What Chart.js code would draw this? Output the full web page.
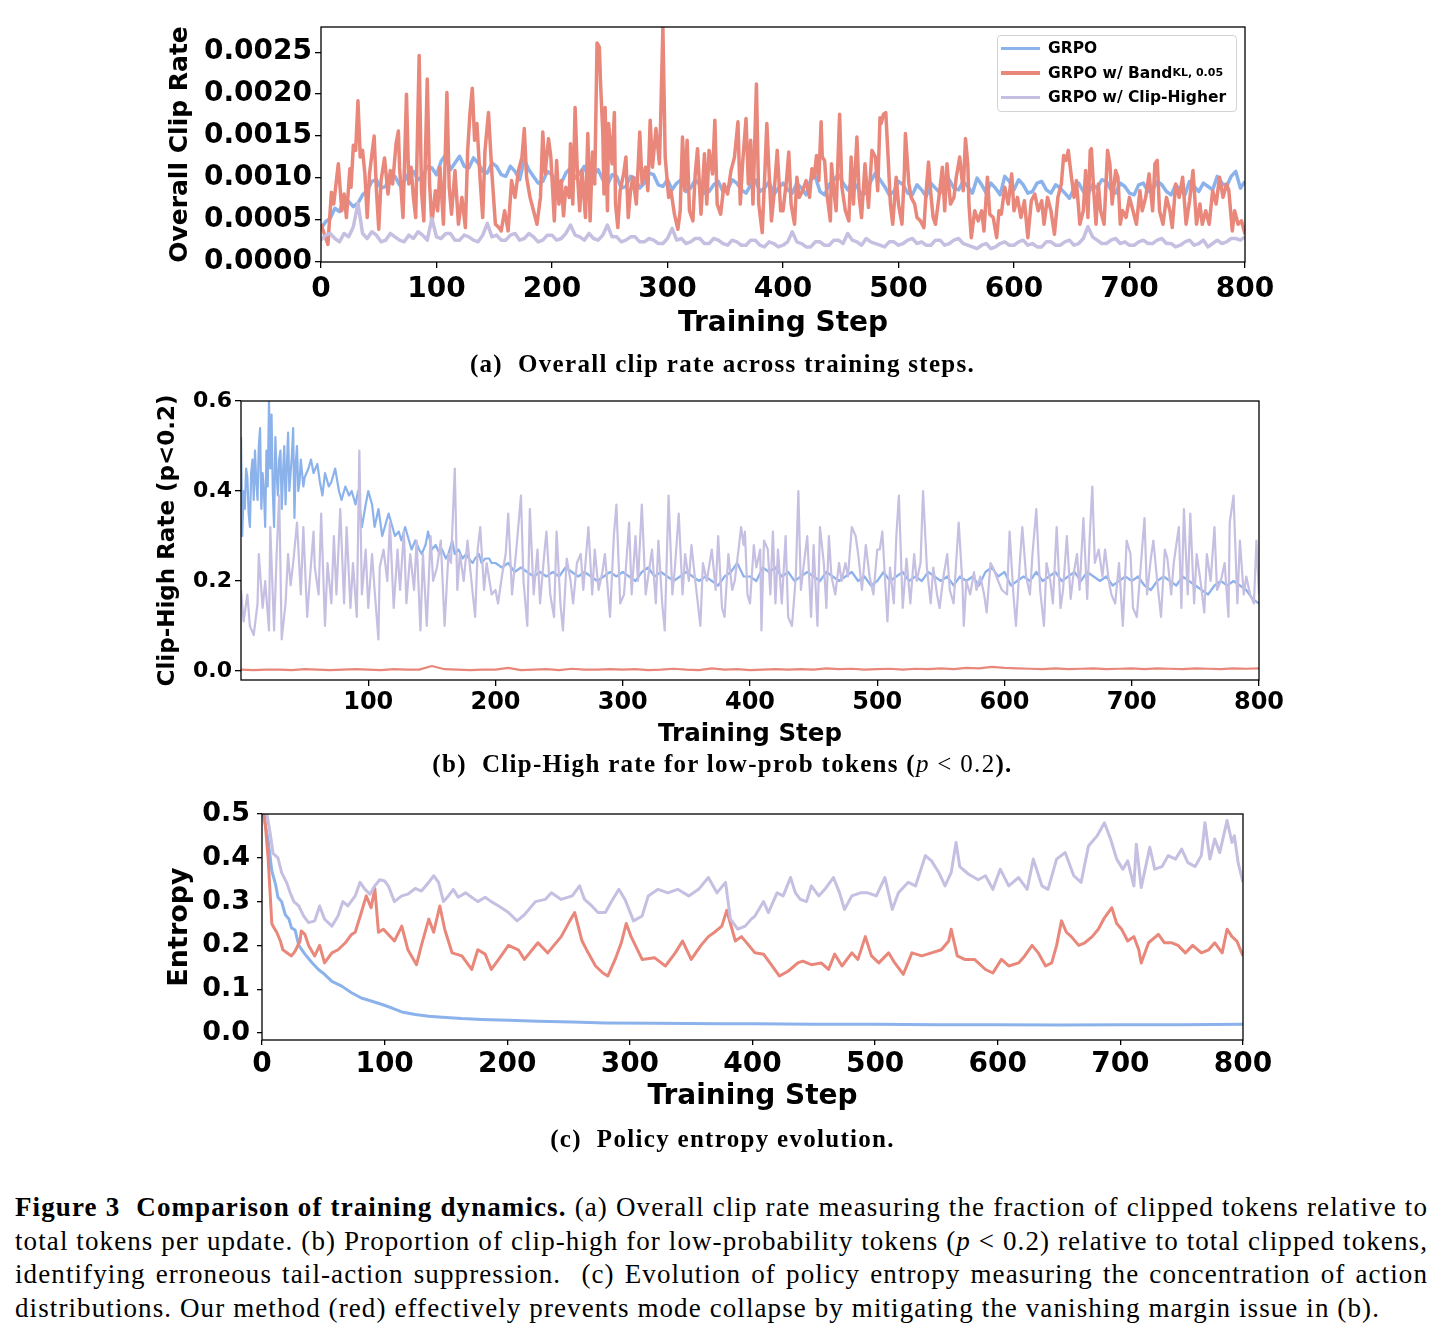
<!DOCTYPE html>
<html>
<head>
<meta charset="utf-8">
<title>Figure 3 - training dynamics</title>
<script src="https://cdn.jsdelivr.net/npm/chart.js@4.4.1/dist/chart.umd.min.js"></script>
<style>
  body { margin: 0; background: #fff; width: 1445px; height: 1338px; position: relative; overflow: hidden; }
  canvas { position: absolute; }
  .sub { position: absolute; left: 0; width: 1445px; text-align: center; font-family: "Liberation Serif", serif;
         font-weight: bold; font-size: 25px; line-height: 30px; letter-spacing: 1.3px; }
  .sub .m { font-weight: normal; }
  .legend { position: absolute; left: 997px; top: 35px; width: 240px; height: 77px; box-sizing: border-box;
            border: 1px solid #d3d3d3; border-radius: 4px; background: rgba(255,255,255,0.8);
            font-family: "DejaVu Sans", sans-serif; font-weight: bold; font-size: 15.5px; }
  .legend .row { height: 24.5px; display: flex; align-items: center; white-space: nowrap; }
  .legend .swatch { display: inline-block; width: 39px; height: 3.5px; margin: 0 8px 0 3px; }
  .legend sub { font-size: 11px; vertical-align: -3px; line-height: 0; }
  .caption { position: absolute; left: 15px; top: 1191px; width: 1413px; font-family: "Liberation Serif", serif;
             font-size: 27px; letter-spacing: 1.1px; color: #000; }
  .caption div { height: 33.5px; line-height: 33.5px; white-space: nowrap; }
  .caption .just { text-align: justify; text-align-last: justify; }
</style>
</head>
<body>
<canvas id="clipChart" width="1150" height="340" style="left:150px; top:10px;"></canvas>
<canvas id="highChart" width="1170" height="375" style="left:140px; top:385px;"></canvas>
<canvas id="entropyChart" width="1150" height="325" style="left:150px; top:800px;"></canvas>

<div class="legend">
  <div class="row"><span class="swatch" style="background:#8cb2ec"></span>GRPO</div>
  <div class="row"><span class="swatch" style="background:#e8877a"></span>GRPO w/ Band<sub>KL, 0.05</sub></div>
  <div class="row"><span class="swatch" style="background:#c6bfe2"></span>GRPO w/ Clip-Higher</div>
</div>

<div class="sub" style="top:349px">(a)&nbsp; Overall clip rate across training steps.</div>
<div class="sub" style="top:749px">(b)&nbsp; Clip-High rate for low-prob tokens (<span class="m"><i>p</i> &lt; 0.2</span>).</div>
<div class="sub" style="top:1124px">(c)&nbsp; Policy entropy evolution.</div>

<div class="caption">
  <div class="just"><b>Figure 3&nbsp; Comparison of training dynamics.</b> (a) Overall clip rate measuring the fraction of clipped tokens relative to</div>
  <div class="just">total tokens per update. (b) Proportion of clip-high for low-probability tokens (<i>p</i> &lt; 0.2) relative to total clipped tokens,</div>
  <div class="just">identifying erroneous tail-action suppression.&nbsp; (c) Evolution of policy entropy measuring the concentration of action</div>
  <div>distributions. Our method (red) effectively prevents mode collapse by mitigating the vanishing margin issue in (b).</div>
</div>

<script>
// colours of the three runs
const BLUE = "#8cb2ec", RED = "#e8877a", PURPLE = "#c6bfe2";

// ---------- (a) overall clip rate, values in units of 1e-4 ----------
const clipGrpoSteps = range(0, 800, 4);
const clipGrpo = [
  4.0, 4.8, 5.2, 6.4, 6.0, 7.6, 7.2, 6.6, 7.0, 8.0, 8.5, 9.6, 9.8, 8.8, 9.0, 10.4, 10.2, 9.2, 9.6, 10.6,
  10.8, 9.8, 10.2, 11.4, 11.2, 10.4, 12.0, 12.8, 11.0, 11.8, 12.6, 11.4, 11.2, 12.4, 11.8, 10.8, 10.6, 11.8, 11.4, 10.4,
  10.2, 11.4, 10.8, 9.8, 12.2, 11.0, 10.2, 9.4, 9.6, 10.8, 10.4, 9.2, 9.4, 10.6, 11.2, 10.0, 10.6, 11.4, 9.8, 10.4,
  11.0, 9.8, 9.2, 10.4, 10.2, 8.8, 9.0, 10.2, 10.0, 8.8, 9.4, 10.6, 10.4, 9.2, 9.0, 9.8, 8.6, 9.4, 9.8, 8.4,
  8.8, 9.8, 9.2, 8.2, 8.4, 9.2, 9.6, 8.4, 8.6, 9.8, 9.4, 8.6, 8.2, 9.2, 9.8, 8.4, 8.8, 9.6, 8.0, 8.8,
  9.4, 8.6, 8.2, 9.4, 8.8, 8.0, 9.8, 10.2, 8.4, 8.0, 9.2, 9.8, 10.4, 9.4, 8.6, 9.6, 9.0, 8.0, 8.2, 9.6,
  10.6, 9.8, 9.0, 8.0, 8.4, 9.6, 9.2, 8.2, 8.0, 9.2, 8.6, 7.8, 9.4, 8.8, 8.2, 9.2, 9.8, 8.8, 8.6, 9.6,
  9.0, 8.2, 10.0, 9.2, 8.2, 9.4, 8.8, 8.0, 10.2, 9.6, 8.6, 9.8, 9.2, 8.2, 8.4, 9.4, 9.6, 8.6, 8.2, 9.2,
  8.8, 8.2, 7.6, 8.8, 9.4, 8.4, 8.0, 9.2, 8.8, 9.8, 9.6, 8.6, 8.2, 9.4, 9.0, 8.2, 8.0, 9.2, 9.4, 8.4,
  8.6, 9.6, 9.2, 8.4, 8.0, 9.2, 8.6, 8.0, 9.6, 9.0, 8.4, 9.4, 9.0, 8.6, 10.2, 9.4, 9.0, 10.2, 10.8, 8.8,
  9.6
];
const clipHigherSteps = range(0, 800, 4);
const clipHigher = [
  2.6, 3.2, 3.4, 2.8, 2.4, 3.4, 3.0, 4.2, 7.0, 3.4, 2.8, 3.6, 3.2, 2.4, 2.6, 3.4, 3.0, 2.6, 2.4, 3.2,
  2.8, 3.6, 3.2, 2.6, 5.2, 3.0, 2.8, 3.4, 3.4, 2.6, 2.6, 3.2, 3.0, 2.6, 2.4, 3.2, 4.6, 3.0, 3.2, 2.6,
  2.6, 3.2, 3.4, 2.6, 2.8, 3.4, 3.0, 2.4, 2.6, 3.2, 3.2, 2.6, 2.8, 3.4, 4.4, 3.2, 3.0, 2.6, 3.4, 2.8,
  2.6, 3.2, 4.4, 3.0, 3.0, 2.4, 2.6, 3.0, 3.0, 2.4, 2.4, 2.8, 2.6, 2.2, 2.2, 2.8, 4.0, 2.6, 2.8, 2.2,
  2.4, 2.8, 2.8, 2.2, 2.2, 2.8, 2.6, 2.2, 2.0, 2.6, 2.4, 2.0, 2.0, 2.6, 2.6, 2.0, 1.8, 2.4, 2.2, 1.8,
  2.0, 2.4, 3.6, 2.4, 2.2, 1.8, 1.8, 2.4, 2.4, 2.0, 2.0, 2.6, 2.6, 2.2, 3.4, 2.6, 2.4, 2.0, 2.8, 2.4,
  2.2, 2.0, 1.8, 2.4, 2.4, 2.0, 2.2, 2.6, 2.8, 2.2, 2.4, 2.0, 2.0, 2.6, 2.6, 2.0, 2.2, 2.6, 2.8, 2.2,
  2.0, 1.8, 1.6, 2.0, 2.2, 1.6, 1.8, 2.2, 2.4, 2.0, 2.0, 2.4, 2.6, 2.0, 2.2, 1.8, 1.8, 2.4, 2.4, 2.0,
  2.0, 2.4, 2.6, 2.0, 2.2, 2.8, 4.2, 3.0, 2.6, 2.2, 2.2, 2.6, 2.8, 2.2, 2.4, 2.0, 2.0, 2.4, 2.6, 2.2,
  2.2, 2.6, 2.8, 2.2, 2.2, 1.8, 2.0, 2.4, 2.6, 2.0, 2.2, 2.6, 1.8, 2.2, 2.6, 2.2, 2.4, 2.8, 2.8, 2.6,
  3.0
];
const clipBandSteps = [
  0, 6, 9, 11, 15, 18, 20, 22, 25, 26,
  28, 30, 32, 34, 36, 38, 40, 42, 46, 48,
  50, 52, 55, 58, 60, 62, 65, 67, 68, 71,
  74, 76, 78, 80, 82, 85, 87, 89, 92, 94,
  96, 99, 101, 103, 106, 109, 111, 113, 116, 119,
  122, 125, 127, 129, 131, 133, 135, 138, 140, 142,
  145, 148, 151, 154, 156, 159, 162, 165, 168, 171,
  174, 176, 178, 181, 184, 187, 190, 192, 194, 197,
  199, 202, 204, 206, 208, 210, 212, 215, 216, 218,
  220, 222, 224, 226, 229, 231, 233, 235, 237, 239,
  241, 242, 244, 245, 246, 248, 249, 252, 254, 255,
  257, 259, 262, 264, 266, 268, 270, 273, 276, 278,
  281, 283, 285, 287, 290, 293, 294, 296, 298, 301,
  303, 306, 309, 311, 313, 315, 317, 319, 322, 324,
  326, 329, 332, 334, 336, 339, 341, 343, 346, 349,
  352, 355, 358, 361, 363, 365, 368, 370, 372, 374,
  377, 379, 382, 384, 386, 388, 390, 392, 395, 398,
  400, 403, 405, 407, 410, 412, 414, 417, 420, 423,
  425, 427, 429, 431, 433, 434, 436, 438, 441, 442,
  444, 446, 449, 451, 454, 457, 459, 461, 464, 466,
  468, 471, 474, 477, 480, 482, 484, 485, 487, 489,
  491, 493, 495, 498, 500, 503, 505, 506, 509, 511,
  514, 516, 519, 522, 524, 526, 528, 530, 532, 535,
  538, 540, 542, 545, 548, 550, 553, 556, 558, 560,
  561, 563, 566, 569, 572, 574, 577, 579, 582, 585,
  587, 589, 592, 595, 598,
  600, 603, 606, 609, 612, 615, 618, 621, 624, 626,
  629, 632, 635, 638, 641, 643, 645, 647, 649, 652,
  654, 657, 660, 662, 664, 666, 667, 669, 671, 673,
  675, 678, 681, 683, 685, 688, 690, 692, 694, 697,
  700, 703, 706, 709, 711, 714, 717, 720, 722, 724,
  726, 729, 732, 735, 737, 740, 743, 746, 749, 752,
  755, 758, 761, 763, 766, 769, 772, 775, 778, 781,
  784, 786, 789, 791, 794, 797, 800
];
const clipBand = [
  4.5, 2.1, 8.3, 6.9, 11.7, 6.1, 8.1, 5.3, 11.1, 8.9,
  13.9, 13.3, 19.2, 12.5, 13.3, 10.5, 5.3, 10.5, 15.0, 8.5,
  3.9, 9.7, 12.4, 8.1, 10.9, 9.3, 14.1, 15.6, 11.3, 5.3,
  20.0, 9.3, 11.3, 7.7, 5.3, 24.6, 8.5, 4.9, 21.8, 9.3,
  4.5, 8.5, 6.1, 11.3, 4.5, 20.2, 8.9, 5.7, 10.9, 4.5,
  7.7, 4.1, 13.3, 17.8, 20.7, 14.5, 16.5, 9.3, 5.3, 13.3,
  17.8, 10.5, 4.5, 4.1, 3.7, 6.1, 3.7, 9.7, 7.7, 10.9,
  12.5, 15.9, 10.1, 7.7, 6.1, 4.5, 7.7, 15.5, 10.5, 14.7,
  12.5, 4.9, 12.1, 6.9, 9.7, 5.5, 8.9, 7.7, 14.1, 6.9,
  18.4, 10.5, 6.1, 10.9, 5.3, 15.3, 4.9, 13.1, 9.3, 26.1,
  25.6, 21.4, 15.3, 8.1, 18.4, 6.1, 16.5, 11.7, 17.8, 6.9,
  4.1, 8.5, 10.5, 12.5, 5.3, 8.5, 10.1, 6.9, 15.5, 9.3,
  11.3, 8.5, 16.9, 11.3, 15.9, 11.7, 16.5, 28.0, 12.5, 7.7,
  8.5, 5.7, 3.9, 6.1, 14.9, 8.5, 14.5, 6.1, 4.9, 10.5,
  13.5, 5.7, 12.9, 6.9, 13.3, 10.5, 16.9, 6.9, 5.7, 9.3,
  8.1, 10.9, 12.5, 16.7, 6.9, 11.7, 17.1, 9.3, 14.5, 6.9,
  21.2, 6.9, 3.5, 9.7, 16.5, 10.5, 4.9, 7.7, 13.3, 6.1,
  6.1, 9.7, 13.1, 6.9, 4.5, 10.1, 7.7, 8.5, 9.7, 7.7,
  11.1, 10.1, 12.7, 9.7, 16.7, 12.5, 12.1, 8.1, 4.9, 11.7,
  8.5, 6.1, 17.6, 8.9, 6.1, 4.9, 12.5, 6.9, 14.9, 7.7,
  5.3, 11.7, 6.5, 13.3, 12.5, 8.5, 17.2, 16.5, 17.6, 17.8,
  12.5, 6.9, 4.5, 10.1, 6.9, 4.5, 10.5, 15.3, 9.3, 7.7,
  6.9, 5.3, 4.9, 4.1, 8.5, 11.9, 8.1, 5.3, 4.5, 7.7,
  11.3, 6.1, 11.7, 6.9, 7.7, 10.1, 12.5, 8.5, 14.7, 11.7,
  6.9, 2.9, 6.1, 4.9, 6.1, 3.7, 10.1, 5.7, 5.3, 2.9,
  6.1, 5.7, 8.9, 6.9, 10.5,
  6.1, 7.7, 5.3, 7.3, 2.9, 7.3, 8.1, 6.1, 7.3, 4.5,
  7.7, 6.1, 3.3, 7.7, 9.3, 12.7, 12.1, 13.3, 10.9, 7.7,
  9.7, 4.5, 6.1, 10.9, 5.3, 13.3, 13.5, 8.5, 4.5, 9.3,
  6.1, 4.5, 13.3, 11.7, 6.9, 10.9, 10.1, 4.5, 6.1, 5.3,
  7.7, 6.1, 4.5, 8.5, 6.1, 7.7, 10.5, 6.1, 11.7, 12.1,
  6.1, 4.5, 7.7, 6.1, 4.1, 9.3, 7.7, 10.1, 4.5, 7.3,
  10.9, 4.5, 6.9, 4.5, 6.1, 4.5, 8.5, 6.9, 10.1, 7.7,
  9.3, 8.5, 3.7, 6.1, 4.5, 4.9, 3.3
];

// ---------- (b) clip-high rate for p < 0.2 ----------
const highGrpoSteps = range(0, 50, 1).concat([
  53, 55, 57, 60, 62, 64, 66, 69, 71, 74,
  77, 79, 82, 85, 87, 90, 92, 95, 98, 100,
  103, 105, 108, 111, 113, 116, 119, 121, 124, 126,
  129, 132, 134, 137, 140, 142, 145, 147, 150, 153,
  156, 158, 161, 163, 166, 168, 171, 174, 177, 179,
  182, 184, 187, 189, 192, 195, 197
]).concat(range(200, 800, 5));
const highGrpo = [
  0.52, 0.30, 0.40, 0.36, 0.45, 0.43, 0.35, 0.32, 0.44, 0.47,
  0.38, 0.49, 0.42, 0.38, 0.50, 0.54, 0.36, 0.44, 0.40, 0.32,
  0.49, 0.41, 0.60, 0.45, 0.57, 0.40, 0.32, 0.52, 0.44, 0.39,
  0.47, 0.49, 0.36, 0.44, 0.50, 0.37, 0.45, 0.53, 0.40, 0.44,
  0.48, 0.54, 0.34, 0.46, 0.50, 0.40, 0.42, 0.47, 0.44, 0.41,
  0.43,
  0.45, 0.47, 0.44, 0.46, 0.42, 0.39, 0.44, 0.41, 0.42, 0.45,
  0.40, 0.38, 0.41, 0.39, 0.40, 0.37, 0.40, 0.32, 0.37, 0.40,
  0.37, 0.32, 0.36, 0.30, 0.32, 0.35, 0.32, 0.30, 0.31, 0.29,
  0.32, 0.29, 0.27, 0.29, 0.27, 0.26, 0.28, 0.31, 0.27, 0.28,
  0.26, 0.27, 0.25, 0.26, 0.29, 0.26, 0.27, 0.25, 0.26, 0.25,
  0.24, 0.25, 0.26, 0.24, 0.25, 0.25, 0.24,
  0.24, 0.23, 0.24, 0.22, 0.23, 0.22, 0.21, 0.22, 0.21, 0.22,
  0.21, 0.23, 0.22, 0.21, 0.22, 0.21, 0.20, 0.21, 0.22, 0.21,
  0.22, 0.21, 0.20, 0.22, 0.23, 0.21, 0.22, 0.21, 0.20, 0.21,
  0.22, 0.21, 0.20, 0.21, 0.20, 0.19, 0.21, 0.22, 0.24, 0.21,
  0.21, 0.20, 0.23, 0.22, 0.23, 0.21, 0.22, 0.20, 0.21, 0.22,
  0.21, 0.20, 0.22, 0.21, 0.20, 0.21, 0.22, 0.20, 0.21, 0.19,
  0.20, 0.22, 0.20, 0.21, 0.22, 0.20, 0.21, 0.20, 0.22, 0.21,
  0.20, 0.21, 0.19, 0.21, 0.20, 0.21, 0.19, 0.22, 0.23, 0.21,
  0.22, 0.19, 0.20, 0.21, 0.20, 0.22, 0.20, 0.21, 0.22, 0.20,
  0.21, 0.22, 0.20, 0.22, 0.21, 0.20, 0.21, 0.19, 0.20, 0.21,
  0.20, 0.21, 0.19, 0.18, 0.20, 0.21, 0.20, 0.19, 0.21, 0.20,
  0.19, 0.18, 0.17, 0.19, 0.20, 0.19, 0.20, 0.19, 0.18, 0.16,
  0.15
];
const highBandSteps = range(0, 800, 10);
const highBand = [
  0.003, 0.002, 0.003, 0.003, 0.002, 0.004, 0.003, 0.002, 0.003, 0.004,
  0.003, 0.002, 0.004, 0.003, 0.003, 0.011, 0.004, 0.003, 0.002, 0.003,
  0.003, 0.007, 0.002, 0.003, 0.004, 0.002, 0.005, 0.003, 0.003, 0.004,
  0.003, 0.004, 0.002, 0.003, 0.005, 0.003, 0.002, 0.006, 0.003, 0.004,
  0.002, 0.003, 0.004, 0.003, 0.004, 0.003, 0.006, 0.004, 0.005, 0.003,
  0.004, 0.005, 0.003, 0.005, 0.004, 0.006, 0.004, 0.007, 0.006, 0.009,
  0.007, 0.006, 0.005, 0.004, 0.006, 0.004, 0.005, 0.006, 0.004, 0.005,
  0.006, 0.004, 0.006, 0.005, 0.004, 0.006, 0.005, 0.004, 0.006, 0.005,
  0.006
];
const highHigherSteps = [
  0, 2, 5, 7, 10, 13, 14, 17, 19, 22,
  23, 26, 28, 30, 32, 35, 37, 39, 41, 44,
  47, 49, 52, 54, 57, 58, 61, 63, 66, 68,
  71, 73, 75, 78, 81, 83, 86, 88, 91, 93,
  95, 98, 100, 103, 105, 108, 109, 112, 115, 117,
  120, 123, 125, 128, 130, 133, 136, 138, 141, 143,
  146, 149, 151, 154, 157, 160, 163, 165, 168, 170,
  172, 175, 178, 180, 184, 186, 188, 191, 193, 197,
  200, 202, 205, 208, 210, 213, 217, 220, 222, 225,
  227, 230, 233, 235, 238, 240, 243, 246, 248, 251,
  253, 256, 259, 261, 264, 267, 269, 273, 276, 278,
  281, 284, 286, 290, 293, 295, 298, 301, 305, 307,
  310, 312, 315, 318, 320, 323, 326, 328, 331, 333,
  336, 339, 341, 344, 347, 349, 352, 354, 357, 361,
  363, 366, 370, 373, 375, 378, 380, 383, 386, 388,
  391, 393, 395, 396, 398, 400, 403, 405, 408, 409,
  411, 414, 416, 418, 420, 422, 425, 428, 430, 433,
  436, 438, 440, 442, 445, 448, 450, 453, 455, 458,
  460, 462, 464, 467, 470, 472, 475, 477, 480, 483,
  485, 488, 491, 494, 497, 500, 502, 504, 508, 510,
  513, 515, 517, 520, 523, 526, 529, 531, 534, 536,
  539, 542, 544, 547, 549, 552, 555, 557, 560, 564,
  567, 568, 570, 573, 576, 578, 581, 584, 586, 589,
  591, 595, 598, 602, 604, 607, 609, 612, 614, 617,
  620, 622, 625, 628, 631, 633, 636, 638, 641, 644,
  646, 649, 652, 654, 657, 659, 662, 665, 667, 669,
  671, 674, 677, 679, 682, 684, 687, 690, 693, 696,
  699, 701, 704, 707, 710, 712, 715, 717, 720, 723,
  726, 728, 731, 733, 737, 739, 741, 744, 746, 749,
  751, 754, 757, 759, 762, 765, 767, 770, 773, 776,
  777, 780, 783, 785, 788, 790, 793, 796, 798, 800
];
const highHigher = [
  0.18, 0.11, 0.17, 0.10, 0.08, 0.15, 0.26, 0.14, 0.20, 0.09,
  0.32, 0.09, 0.26, 0.39, 0.07, 0.15, 0.26, 0.19, 0.24, 0.33,
  0.17, 0.32, 0.12, 0.20, 0.31, 0.23, 0.17, 0.35, 0.10, 0.24,
  0.15, 0.30, 0.17, 0.36, 0.15, 0.32, 0.14, 0.24, 0.12, 0.49,
  0.17, 0.27, 0.14, 0.26, 0.18, 0.07, 0.23, 0.27, 0.20, 0.33,
  0.14, 0.27, 0.18, 0.31, 0.15, 0.26, 0.18, 0.29, 0.09, 0.26,
  0.10, 0.30, 0.20, 0.23, 0.29, 0.10, 0.26, 0.24, 0.45, 0.18,
  0.26, 0.20, 0.29, 0.23, 0.12, 0.27, 0.32, 0.18, 0.24, 0.17,
  0.18, 0.15, 0.21, 0.26, 0.35, 0.17, 0.29, 0.39, 0.20, 0.10,
  0.36, 0.17, 0.27, 0.15, 0.25, 0.31, 0.17, 0.12, 0.31, 0.15,
  0.09, 0.25, 0.20, 0.15, 0.24, 0.26, 0.18, 0.32, 0.17, 0.27,
  0.18, 0.22, 0.26, 0.12, 0.30, 0.37, 0.15, 0.17, 0.33, 0.17,
  0.30, 0.20, 0.37, 0.17, 0.21, 0.27, 0.15, 0.29, 0.15, 0.09,
  0.39, 0.17, 0.23, 0.35, 0.17, 0.26, 0.20, 0.28, 0.20, 0.10,
  0.24, 0.20, 0.27, 0.18, 0.30, 0.14, 0.12, 0.26, 0.18, 0.20,
  0.27, 0.32, 0.28, 0.31, 0.17, 0.15, 0.28, 0.23, 0.27, 0.09,
  0.29, 0.27, 0.17, 0.31, 0.15, 0.27, 0.15, 0.30, 0.12, 0.10,
  0.21, 0.40, 0.18, 0.23, 0.30, 0.12, 0.28, 0.10, 0.32, 0.24,
  0.14, 0.30, 0.21, 0.17, 0.24, 0.20, 0.24, 0.21, 0.32, 0.30,
  0.26, 0.18, 0.28, 0.21, 0.17, 0.27, 0.27, 0.31, 0.11, 0.23,
  0.15, 0.30, 0.39, 0.14, 0.25, 0.15, 0.26, 0.20, 0.24, 0.40,
  0.23, 0.15, 0.23, 0.17, 0.14, 0.21, 0.26, 0.18, 0.15, 0.33,
  0.19, 0.10, 0.20, 0.17, 0.22, 0.18, 0.21, 0.17, 0.13, 0.24,
  0.23, 0.20, 0.18, 0.17, 0.31, 0.17, 0.10, 0.24, 0.32, 0.21,
  0.17, 0.26, 0.36, 0.18, 0.10, 0.24, 0.20, 0.15, 0.32, 0.14,
  0.18, 0.30, 0.16, 0.21, 0.26, 0.18, 0.34, 0.16, 0.30, 0.41,
  0.24, 0.27, 0.21, 0.27, 0.20, 0.17, 0.15, 0.24, 0.10, 0.29,
  0.26, 0.14, 0.12, 0.23, 0.34, 0.17, 0.25, 0.29, 0.20, 0.12,
  0.27, 0.25, 0.17, 0.24, 0.32, 0.14, 0.36, 0.17, 0.35, 0.15,
  0.26, 0.20, 0.13, 0.26, 0.20, 0.32, 0.18, 0.20, 0.24, 0.12,
  0.33, 0.39, 0.15, 0.29, 0.17, 0.21, 0.17, 0.15, 0.29, 0.17
];

// ---------- (c) policy entropy ----------
const entGrpoSteps = [
  0, 1, 5, 8, 11, 13, 16, 19, 22, 24,
  27, 30, 35, 41, 46, 51, 57, 65, 73, 81,
  89, 98, 106, 114, 125, 136, 147, 163, 179, 201,
  225, 253, 280, 320, 375, 402, 450, 500, 550, 600,
  650, 700, 750, 800
];
const entGrpo = [
  0.56, 0.50, 0.44, 0.37, 0.34, 0.31, 0.30, 0.27, 0.26, 0.24,
  0.235, 0.20, 0.18, 0.16, 0.145, 0.134, 0.118, 0.107, 0.092, 0.080,
  0.073, 0.065, 0.057, 0.048, 0.042, 0.038, 0.036, 0.033, 0.031, 0.029,
  0.027, 0.025, 0.023, 0.022, 0.021, 0.021, 0.020, 0.020, 0.019, 0.019,
  0.018, 0.019, 0.019, 0.020
];
const entBandSteps = [
  0, 2, 5, 8, 9, 12, 15, 17, 22, 24,
  27, 31, 32, 35, 38, 43, 47, 51, 57, 62,
  68, 73, 76, 81, 85, 89, 92, 95, 99, 103,
  108, 114, 119, 126, 130, 136, 140, 145, 149, 155,
  163, 171, 176, 182, 187, 193, 201, 209, 214, 225,
  233, 244, 251, 255, 261, 266, 272, 278, 282, 288,
  293, 297, 301, 310, 320, 329, 337, 343, 350, 358,
  364, 369, 375, 379, 382, 386, 391, 397, 402, 409,
  416, 422, 429, 437, 441, 448, 456, 462, 467, 473,
  481, 486, 492, 497, 503, 511, 516, 523, 530, 538,
  546, 554, 560, 562, 567, 573, 581, 590, 596, 603,
  609, 617, 622, 628, 633, 639, 644, 648, 652, 656,
  660, 666, 671, 677, 682, 687, 693, 697, 701, 706,
  711, 715, 717, 723, 731, 736, 742, 747, 753, 759,
  766, 772, 777, 783, 787, 791, 795, 800
];
const entBand = [
  0.56, 0.50, 0.40, 0.25, 0.244, 0.23, 0.21, 0.19, 0.18, 0.176,
  0.187, 0.21, 0.233, 0.225, 0.20, 0.176, 0.20, 0.16, 0.183, 0.19,
  0.206, 0.225, 0.23, 0.275, 0.313, 0.286, 0.33, 0.23, 0.237, 0.225,
  0.21, 0.244, 0.19, 0.156, 0.20, 0.26, 0.23, 0.29, 0.237, 0.183,
  0.176, 0.145, 0.19, 0.18, 0.145, 0.168, 0.20, 0.19, 0.168, 0.206,
  0.183, 0.22, 0.256, 0.275, 0.21, 0.183, 0.153, 0.137, 0.13, 0.168,
  0.206, 0.25, 0.22, 0.168, 0.172, 0.153, 0.183, 0.21, 0.168, 0.20,
  0.22, 0.23, 0.244, 0.28, 0.25, 0.21, 0.22, 0.20, 0.183, 0.18,
  0.153, 0.13, 0.141, 0.16, 0.164, 0.156, 0.16, 0.145, 0.18, 0.153,
  0.183, 0.168, 0.22, 0.176, 0.16, 0.183, 0.16, 0.134, 0.183, 0.176,
  0.183, 0.19, 0.21, 0.237, 0.176, 0.168, 0.168, 0.145, 0.137, 0.168,
  0.153, 0.16, 0.176, 0.20, 0.183, 0.153, 0.16, 0.20, 0.256, 0.23,
  0.22, 0.20, 0.206, 0.22, 0.237, 0.263, 0.286, 0.25, 0.237, 0.21,
  0.22, 0.19, 0.16, 0.206, 0.225, 0.206, 0.206, 0.20, 0.183, 0.20,
  0.183, 0.19, 0.206, 0.183, 0.237, 0.22, 0.21, 0.176
];
const entHigherSteps = [
  0, 4, 7, 9, 13, 16, 20, 23, 26, 30,
  34, 38, 43, 47, 51, 57, 62, 66, 70, 76,
  80, 84, 88, 92, 96, 100, 103, 108, 114, 119,
  125, 130, 136, 140, 144, 148, 152, 156, 160, 166,
  171, 176, 182, 187, 193, 201, 208, 214, 223, 231,
  236, 244, 253, 259, 263, 269, 274, 280, 285, 291,
  296, 303, 310, 315, 323, 331, 339, 348, 356, 364,
  371, 378, 382, 388, 394, 399, 402, 409, 413, 420,
  425, 431, 435, 439, 444, 448, 454, 459, 466, 471,
  475, 481, 488, 494, 501, 508, 514, 519, 527, 533,
  541, 546, 552, 557, 562, 566, 569, 576, 584, 590,
  596, 602, 609, 617, 624, 629, 636, 641, 648, 655,
  662, 668, 674, 681, 687, 692, 697, 702, 706, 711,
  713, 717, 724, 728, 734, 739, 745, 750, 755, 761,
  766, 769, 773, 777, 781, 787, 791, 793, 796, 800
];
const entHigher = [
  0.58, 0.50, 0.45, 0.41, 0.40, 0.366, 0.344, 0.32, 0.30, 0.29,
  0.267, 0.252, 0.256, 0.29, 0.26, 0.244, 0.267, 0.30, 0.29, 0.313,
  0.344, 0.328, 0.317, 0.336, 0.35, 0.347, 0.336, 0.30, 0.313, 0.317,
  0.33, 0.324, 0.344, 0.359, 0.344, 0.30, 0.313, 0.328, 0.31, 0.32,
  0.31, 0.30, 0.31, 0.30, 0.29, 0.275, 0.256, 0.27, 0.30, 0.305,
  0.32, 0.305, 0.313, 0.336, 0.305, 0.29, 0.275, 0.275, 0.30, 0.328,
  0.305, 0.256, 0.267, 0.313, 0.328, 0.32, 0.328, 0.313, 0.328, 0.355,
  0.32, 0.344, 0.26, 0.237, 0.244, 0.26, 0.267, 0.30, 0.275, 0.32,
  0.313, 0.355, 0.32, 0.305, 0.30, 0.336, 0.313, 0.328, 0.355, 0.32,
  0.282, 0.313, 0.32, 0.32, 0.313, 0.355, 0.282, 0.32, 0.344, 0.336,
  0.405, 0.393, 0.366, 0.336, 0.366, 0.435, 0.38, 0.363, 0.35, 0.359,
  0.328, 0.374, 0.336, 0.355, 0.328, 0.397, 0.336, 0.328, 0.397, 0.412,
  0.359, 0.344, 0.427, 0.45, 0.48, 0.443, 0.397, 0.374, 0.393, 0.336,
  0.431, 0.332, 0.424, 0.374, 0.38, 0.405, 0.397, 0.42, 0.389, 0.38,
  0.405, 0.48, 0.397, 0.443, 0.412, 0.485, 0.435, 0.45, 0.389, 0.344
];

function range(start, stop, step) {
    const out = [];
    for (let v = start; v <= stop; v += step) out.push(v);
    return out;
}

function points(steps, values, scale = 1) {
    return steps.map((s, i) => ({x: s, y: values[i] * scale}));
}

function boldFont(size) {
    return {family: "'DejaVu Sans', sans-serif", weight: 'bold', size: size};
}

// matplotlib-style box round the plot area
const framePlugin = {
    id: 'frame',
    afterDatasetsDraw(chart) {
        const {ctx, chartArea: a} = chart;
        ctx.save();
        ctx.strokeStyle = '#000';
        ctx.lineWidth = 1.3;
        ctx.strokeRect(a.left, a.top, a.right - a.left, a.bottom - a.top);
        ctx.restore();
    }
};

function makeChart(id, o) {
    const tickGrid = {drawOnChartArea: false, drawTicks: true, tickLength: o.tickLen, color: '#000', lineWidth: 1.3};
    return new Chart(document.getElementById(id), {
        type: 'line',
        data: {
            datasets: o.datasets.map(d => ({
                data: d.data,
                borderColor: d.color,
                borderWidth: o.lineWidth,
                pointRadius: 0,
                tension: 0,
                fill: false,
                borderJoinStyle: 'round'
            }))
        },
        options: {
            responsive: false,
            animation: false,
            events: [],
            layout: {padding: o.padding},
            plugins: {legend: {display: false}, tooltip: {enabled: false}},
            scales: {
                x: {
                    type: 'linear', min: 0, max: 800,
                    // fixed box so the plot area lands where the figure has it
                    afterFit: s => { s.height = o.xHeight; s.paddingLeft = 0; s.paddingRight = 0; },
                    afterBuildTicks: s => { if (o.hideZero) s.ticks = s.ticks.filter(t => t.value > 0); },
                    ticks: {stepSize: 100, autoSkip: false, maxRotation: 0, color: '#000',
                            font: boldFont(o.xTickSize), padding: o.xTickPad},
                    grid: tickGrid,
                    border: {display: false},
                    title: {display: true, text: 'Training Step', color: '#000',
                            font: boldFont(o.xTitleSize), padding: {top: 0, bottom: o.xTitlePad}}
                },
                y: {
                    type: 'linear', min: o.yMin, max: o.yMax,
                    afterFit: s => { s.width = o.yWidth; s.paddingTop = 0; s.paddingBottom = 0; },
                    ticks: {stepSize: o.yStep, includeBounds: false, color: '#000',
                            font: boldFont(o.yTickSize), padding: o.yTickPad,
                            callback: v => v.toFixed(o.yDigits)},
                    grid: tickGrid,
                    border: {display: false},
                    title: {display: true, text: o.yTitle, color: '#000',
                            font: boldFont(o.yTitleSize), padding: {top: o.yTitlePad, bottom: 0}}
                }
            }
        },
        plugins: [framePlugin]
    });
}

document.addEventListener("DOMContentLoaded", () => {
    // first dataset is drawn on top
    makeChart("clipChart", {
        datasets: [
            {data: points(clipHigherSteps, clipHigher, 1e-4), color: PURPLE},
            {data: points(clipBandSteps, clipBand, 1e-4), color: RED},
            {data: points(clipGrpoSteps, clipGrpo, 1e-4), color: BLUE}
        ],
        lineWidth: 3.5,
        padding: {top: 17, right: 55, bottom: 0, left: 0},
        yWidth: 171, xHeight: 88, tickLen: 6,
        xTickSize: 28, xTickPad: 5, xTitleSize: 28, xTitlePad: 9,
        yMin: 0, yMax: 0.0028, yStep: 0.0005, yDigits: 4,
        yTickSize: 28, yTickPad: 3, yTitle: 'Overall Clip Rate', yTitleSize: 25, yTitlePad: 15
    });

    makeChart("highChart", {
        datasets: [
            {data: points(highHigherSteps, highHigher), color: PURPLE},
            {data: points(highBandSteps, highBand), color: RED},
            {data: points(highGrpoSteps, highGrpo), color: BLUE}
        ],
        lineWidth: 2.2,
        hideZero: true,
        padding: {top: 16, right: 51, bottom: 0, left: 0},
        yWidth: 101, xHeight: 80, tickLen: 6,
        xTickSize: 24, xTickPad: 2, xTitleSize: 24.5, xTitlePad: 11,
        yMin: -0.02, yMax: 0.6, yStep: 0.2, yDigits: 1,
        yTickSize: 22, yTickPad: 3, yTitle: 'Clip-High Rate (p<0.2)', yTitleSize: 23, yTitlePad: 14
    });

    makeChart("entropyChart", {
        datasets: [
            {data: points(entHigherSteps, entHigher), color: PURPLE},
            {data: points(entBandSteps, entBand), color: RED},
            {data: points(entGrpoSteps, entGrpo), color: BLUE}
        ],
        lineWidth: 3,
        padding: {top: 14, right: 57, bottom: 0, left: 0},
        yWidth: 112, xHeight: 85, tickLen: 5,
        xTickSize: 28, xTickPad: 3, xTitleSize: 28, xTitlePad: 11,
        yMin: -0.016, yMax: 0.5, yStep: 0.1, yDigits: 1,
        yTickSize: 27, yTickPad: 7, yTitle: 'Entropy', yTitleSize: 27, yTitlePad: 14
    });
});
</script>
</body>
</html>
